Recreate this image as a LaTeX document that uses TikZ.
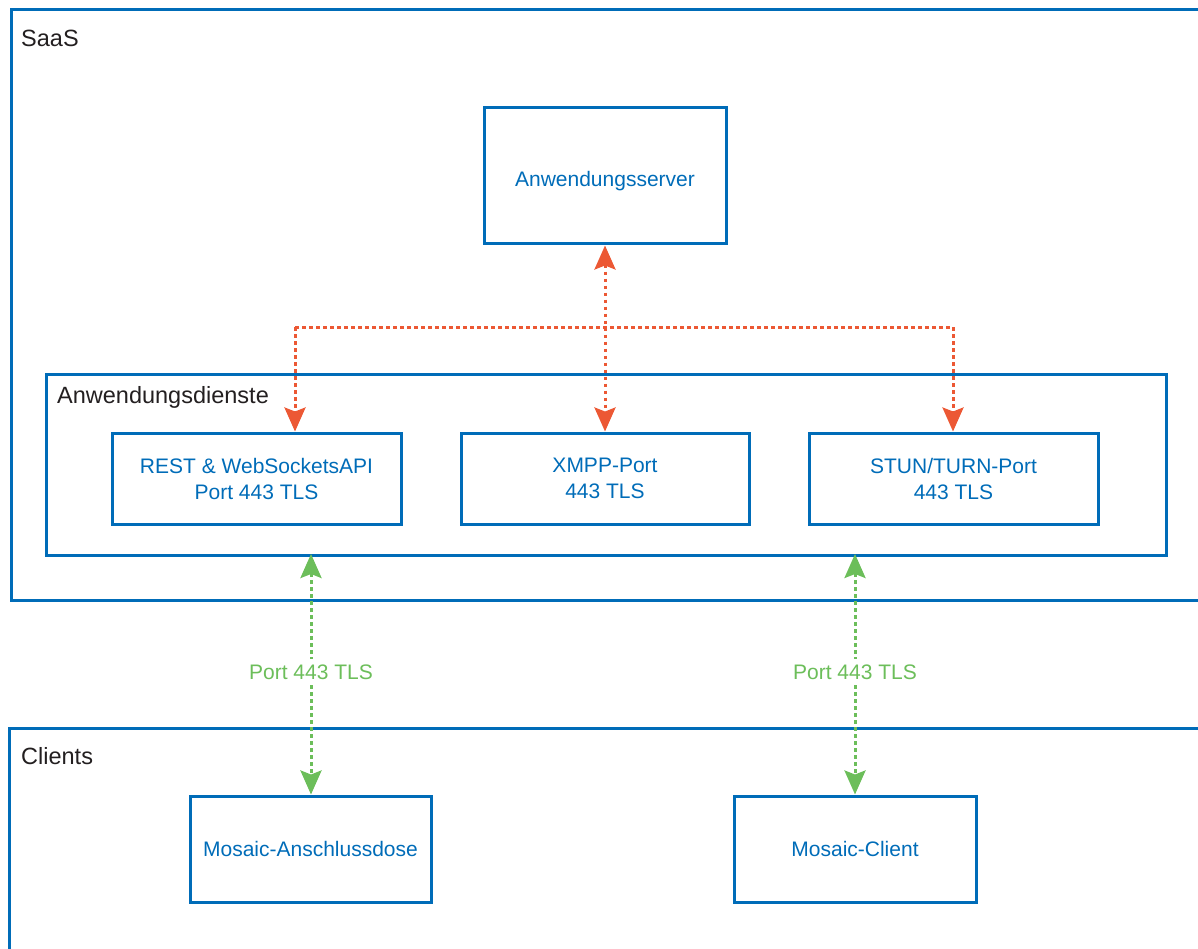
\documentclass[tikz,border=0pt]{standalone}
\usepackage{fontspec}
\setmainfont{Liberation Sans}
\usetikzlibrary{arrows.meta}
\definecolor{bblue}{RGB}{0,108,184}
\definecolor{tdark}{RGB}{35,31,32}
\definecolor{ored}{RGB}{236,88,52}
\definecolor{lgreen}{RGB}{108,190,90}
\tikzset{
  box/.style={draw=bblue, line width=3pt, text=bblue, align=center, font=\fontsize{21}{26}\selectfont, inner sep=0pt},
  grp/.style={draw=bblue, line width=3pt},
  glabel/.style={text=tdark, anchor=west, font=\fontsize{23.5}{26}\selectfont, inner sep=0pt},
  tip/.style={Stealth[length=24pt,width=21pt,inset=4pt]},
  redarr/.style={draw=ored, line width=3pt, dash pattern=on 3.5pt off 3.5pt, {Stealth[length=24pt,width=21pt,inset=4pt]}-{Stealth[length=24pt,width=21pt,inset=4pt]}},
  redln/.style={draw=ored, line width=3pt, dash pattern=on 3.5pt off 3.5pt},
  redhead/.style={draw=ored, line width=3pt, dash pattern=on 3.5pt off 3.5pt, -{Stealth[length=24pt,width=21pt,inset=4pt]}},
  grnarr/.style={draw=lgreen, line width=3pt, dash pattern=on 3.5pt off 3.5pt, {Stealth[length=24pt,width=21pt,inset=4pt]}-{Stealth[length=24pt,width=21pt,inset=4pt]}},
  plabel/.style={text=lgreen, fill=white, font=\fontsize{21}{26}\selectfont, inner sep=5pt}
}
\begin{document}
\begin{tikzpicture}[x=1pt,y=-1pt]
\useasboundingbox (0,0) rectangle (1198,949);
% SaaS group
\draw[grp] (1210,10) -- (11,10) -- (11,600) -- (1210,600);
\node[glabel] (saas) at (21,38) {SaaS};
% Clients group
\draw[grp] (1210,728) -- (9,728) -- (9,960);
\node[glabel] (clients) at (21,756) {Clients};
% Anwendungsdienste
\node[grp, minimum width=1120pt, minimum height=181pt, anchor=north west, inner sep=0pt] (dienste) at (45,373) {};
\node[glabel] (dlabel) at (57,397) {Anwendungsdienste};
% boxes
\node[box, minimum width=242pt, minimum height=136pt, text depth=0pt] (server) at (605,176) {\raisebox{-5pt}{Anwendungsserver}};
\node[box, minimum width=289pt, minimum height=91pt] (rest) at (256.5,478.5) {REST \& WebSocketsAPI\\Port 443 TLS};
\node[box, minimum width=288pt, minimum height=91pt] (xmpp) at (605,478.5) {XMPP-Port\\443 TLS};
\node[box, minimum width=289pt, minimum height=91pt] (stun) at (953.5,478.5) {STUN/TURN-Port\\443 TLS};
\node[box, minimum width=241pt, minimum height=106pt] (dose) at (310.5,849) {Mosaic-Anschlussdose};
\node[box, minimum width=242pt, minimum height=106pt] (client) at (855,849) {Mosaic-Client};
% red connectors
\coordinate (jl) at (295,327);
\coordinate (jr) at (953,327);
\draw[redarr] (server.south) -- (xmpp.north);
\draw[redln] (jl) -- (jr);
\draw[redhead] (jl) -- (jl |- rest.north);
\draw[redhead] (jr) -- (jr |- stun.north);
% green connectors
\coordinate (g1) at (311,554);
\coordinate (g2) at (855,554);
\draw[grnarr] (g1) -- (g1 |- dose.north) node[plabel, pos=0.49] (p1) {Port 443 TLS};
\draw[grnarr] (g2) -- (client.north) node[plabel, pos=0.49] (p2) {Port 443 TLS};
\end{tikzpicture}
\end{document}
